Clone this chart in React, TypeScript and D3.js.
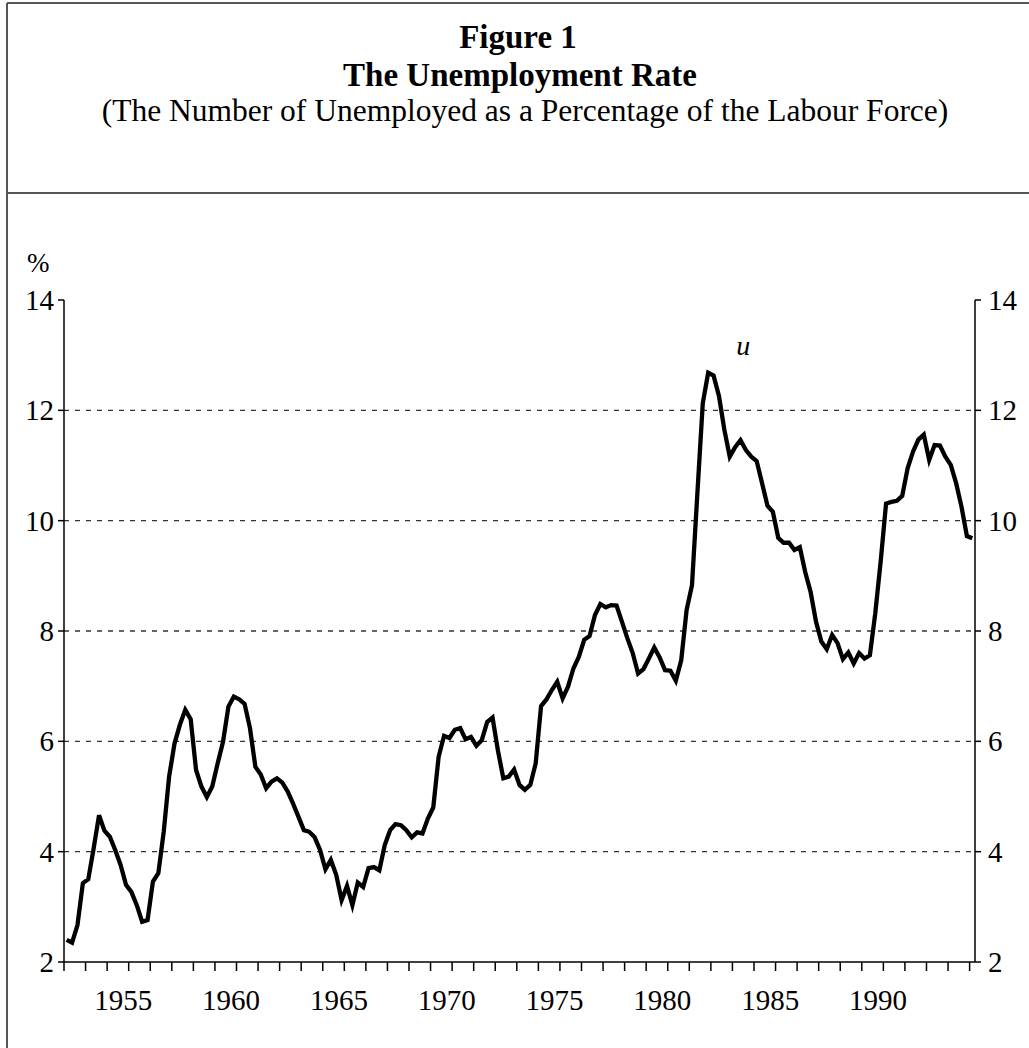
import React, { useEffect, useRef } from "react";
import * as d3 from "d3";

// Quarterly unemployment rate (%), starting 1952 Q2
const startYear = 1952;
const startQuarter = 2;
const unemployment: number[] = [
  2.40, 2.35, 2.67, 3.43, 3.50, 4.06, 4.66, 4.38, 4.27, 4.03,
  3.76, 3.40, 3.27, 3.03, 2.73, 2.76, 3.46, 3.61, 4.36, 5.36,
  5.96, 6.30, 6.57, 6.40, 5.48, 5.18, 4.99, 5.18, 5.60, 5.99,
  6.63, 6.81, 6.76, 6.68, 6.24, 5.54, 5.40, 5.15, 5.27, 5.33,
  5.25, 5.09, 4.87, 4.63, 4.39, 4.36, 4.26, 4.03, 3.68, 3.85,
  3.58, 3.12, 3.38, 3.03, 3.44, 3.36, 3.70, 3.72, 3.66, 4.12,
  4.39, 4.50, 4.48, 4.39, 4.26, 4.35, 4.33, 4.60, 4.80, 5.72,
  6.10, 6.06, 6.21, 6.24, 6.04, 6.08, 5.92, 6.02, 6.35, 6.43,
  5.83, 5.33, 5.36, 5.49, 5.21, 5.12, 5.21, 5.60, 6.64, 6.76,
  6.93, 7.08, 6.78, 6.99, 7.32, 7.53, 7.84, 7.91, 8.29, 8.49,
  8.43, 8.47, 8.46, 8.17, 7.87, 7.60, 7.23, 7.31, 7.50, 7.70,
  7.52, 7.29, 7.28, 7.10, 7.47, 8.38, 8.83, 10.50, 12.13, 12.68,
  12.63, 12.26, 11.65, 11.16, 11.33, 11.46, 11.28, 11.16, 11.08, 10.68,
  10.27, 10.16, 9.69, 9.60, 9.60, 9.47, 9.52, 9.07, 8.71, 8.17,
  7.81, 7.67, 7.93, 7.78, 7.49, 7.61, 7.41, 7.60, 7.50, 7.56,
  8.32, 9.26, 10.31, 10.34, 10.36, 10.45, 10.95, 11.25, 11.47, 11.56,
  11.10, 11.37, 11.36, 11.16, 11.01, 10.68, 10.25, 9.72, 9.68,
];
const yearLabels: string[] = ["1955", "1960", "1965", "1970", "1975", "1980", "1985", "1990"];
const yTicks: number[] = [2, 4, 6, 8, 10, 12, 14];
const gridValues: number[] = [4, 6, 8, 10, 12];
const titleLines: string[] = ["Figure 1", "The Unemployment Rate"];
const subtitle = "(The Number of Unemployed as a Percentage of the Labour Force)";
const unitLabel = "%";
const seriesLabel = "u";

const W = 1029;
const H = 1048;
const FONT = "'Liberation Serif', 'Times New Roman', serif";

export default function App() {
  const ref = useRef<SVGSVGElement | null>(null);

  useEffect(() => {
    const svg = d3.select(ref.current);
    svg.selectAll("*").remove();

    const left = 64;
    const right = 975;
    const top = 300;
    const bottom = 962;
    const n = unemployment.length;

    // linear scale over quarter index (categories)
    const x = d3.scaleLinear().domain([0, n]).range([left, right]);
    const y = d3.scaleLinear().domain([2, 14]).range([bottom, top]);

    // Frame
    const frame = svg.append("g").attr("stroke", "#555").attr("stroke-width", 2);
    frame.append("line").attr("x1", 7).attr("x2", W + 5).attr("y1", 3).attr("y2", 3);
    frame.append("line").attr("x1", 7).attr("x2", 7).attr("y1", 3).attr("y2", H + 5);
    frame.append("line").attr("x1", 7).attr("x2", W + 5).attr("y1", 193).attr("y2", 193);

    // Titles
    svg.append("text").attr("x", 518).attr("y", 48).attr("text-anchor", "middle")
      .attr("font-family", FONT).attr("font-weight", "bold").attr("font-size", 33).text(titleLines[0]);
    svg.append("text").attr("x", 520).attr("y", 86).attr("text-anchor", "middle")
      .attr("font-family", FONT).attr("font-weight", "bold").attr("font-size", 33).text(titleLines[1]);
    svg.append("text").attr("x", 525).attr("y", 121).attr("text-anchor", "middle")
      .attr("font-family", FONT).attr("font-size", 31.5).text(subtitle);

    // Grid
    svg.append("g").selectAll("line").data(gridValues).join("line")
      .attr("x1", left).attr("x2", right)
      .attr("y1", (d) => y(d)).attr("y2", (d) => y(d))
      .attr("stroke", "#333").attr("stroke-width", 1.3).attr("stroke-dasharray", "5,6");

    // Axes lines
    const axes = svg.append("g").attr("stroke", "#000").attr("stroke-width", 1.5);
    axes.append("line").attr("x1", left).attr("x2", left).attr("y1", top).attr("y2", bottom);
    axes.append("line").attr("x1", right).attr("x2", right).attr("y1", top).attr("y2", bottom);
    axes.append("line").attr("x1", left).attr("x2", right).attr("y1", bottom).attr("y2", bottom);

    // y ticks
    axes.selectAll(".lt").data(yTicks).join("line").attr("class", "lt")
      .attr("x1", left - 6).attr("x2", left).attr("y1", (d) => y(d)).attr("y2", (d) => y(d));
    axes.selectAll(".rt").data(yTicks).join("line").attr("class", "rt")
      .attr("x1", right).attr("x2", right + 6).attr("y1", (d) => y(d)).attr("y2", (d) => y(d));

    // x ticks every 4 quarters
    const xTickIdx = d3.range(0, n, 4);
    axes.selectAll(".xt").data(xTickIdx).join("line").attr("class", "xt")
      .attr("x1", (d) => x(d)).attr("x2", (d) => x(d)).attr("y1", bottom).attr("y2", bottom + 9);

    // y labels
    svg.append("g").selectAll("text").data(yTicks).join("text")
      .attr("x", left - 10).attr("y", (d) => y(d) + 10).attr("text-anchor", "end")
      .attr("font-family", FONT).attr("font-size", 29).text((d) => d);
    svg.append("g").selectAll("text").data(yTicks).join("text")
      .attr("x", right + 13).attr("y", (d) => y(d) + 10).attr("text-anchor", "start")
      .attr("font-family", FONT).attr("font-size", 29).text((d) => d);

    // x labels: first quarter of each labelled year
    const firstQ = (4 - startQuarter + 1) % 4; // index of next Q1
    svg.append("g").selectAll("text").data(yearLabels).join("text")
      .attr("x", (d) => x((+d - startYear - 1) * 4 + firstQ))
      .attr("y", 1010).attr("text-anchor", "middle")
      .attr("font-family", FONT).attr("font-size", 29).text((d) => d);

    // unit label
    svg.append("text").attr("x", 27).attr("y", 272).attr("font-family", FONT).attr("font-size", 27).text(unitLabel);

    // series
    const line = d3.line<number>().x((_, i) => x(i + 0.5)).y((d) => y(d));
    svg.append("path").datum(unemployment).attr("d", line).attr("fill", "none")
      .attr("stroke", "#000").attr("stroke-width", 4.3).attr("stroke-linejoin", "miter");

    // series label near peak
    const peakIdx = d3.maxIndex(unemployment);
    svg.append("text").attr("x", x(peakIdx + 0.5) + 28).attr("y", y(unemployment[peakIdx]) - 18)
      .attr("font-family", FONT).attr("font-style", "italic").attr("font-size", 28).text(seriesLabel);
  }, []);

  return (
    <svg ref={ref} width={W} height={H} style={{ position: "absolute", left: 0, top: 0, background: "#fff" }} />
  );
}
